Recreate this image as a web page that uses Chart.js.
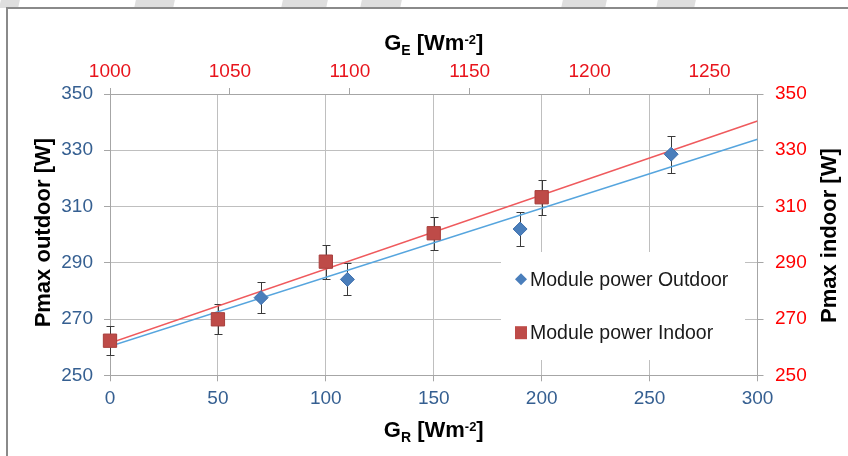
<!DOCTYPE html>
<html>
<head>
<meta charset="utf-8">
<script src="https://cdn.jsdelivr.net/npm/chart.js@4/dist/chart.umd.min.js"></script>
<style>
  html, body { margin:0; padding:0; width:848px; height:456px; overflow:hidden; background:#ffffff; }
  .wm { position:absolute; top:0; height:8px; background:#dedede; transform:skewX(-12deg); }
  #frame { position:absolute; left:6px; top:7px; width:900px; height:500px; background:#ffffff;
           border-top:2px solid #8a8a8a; border-left:2px solid #8a8a8a; box-sizing:border-box; }
  #c { position:absolute; left:0; top:0; }
</style>
</head>
<body>
<div class="wm" style="left:0px;width:19px"></div>
<div class="wm" style="left:135px;width:39px"></div>
<div class="wm" style="left:282px;width:45px"></div>
<div class="wm" style="left:361px;width:40px"></div>
<div class="wm" style="left:562px;width:44px"></div>
<div class="wm" style="left:657px;width:38px"></div>
<div id="frame"></div>
<canvas id="c" width="848" height="456"></canvas>
<script>
// ---- data ----
const outdoorX   = [70, 110, 190, 260];
const outdoorY   = [277.6, 284.1, 302.0, 328.6];
const outdoorErr = [5.4, 5.7, 6.0, 6.6];

const indoorX    = [0, 50, 100, 150, 200];
const indoorY    = [262.3, 269.9, 290.4, 300.5, 313.3];
const indoorErr  = [5.1, 5.3, 6.0, 5.8, 6.2];

const trendX        = [0, 300];
const trendOutdoorY = [260.3, 333.9];
const trendIndoorY  = [261.5, 340.4];

const bottomTicks = [0, 50, 100, 150, 200, 250, 300];
const topTicks    = [1000, 1050, 1100, 1150, 1200, 1250];
const yTicks      = [250, 270, 290, 310, 330, 350];

const seriesLabels = ['Module power Outdoor', 'Module power Indoor'];
const leftTitle  = 'Pmax outdoor [W]';
const rightTitle = 'Pmax indoor [W]';

// ---- styles ----
const FONT = "'Liberation Sans', Arial, sans-serif";
const BLUE_TXT = '#355f91';
const RED_TOP = '#e8141c';
const RED_R = '#ff0000';
const GRID = '#bfbfbf';
const AXIS = '#a6a6a6';
const BLUE_MK = '#4a7ebb';
const RED_MK = '#be4b48';

const pts = (xs, ys) => xs.map((x, i) => ({x: x, y: ys[i]}));
const plain = v => String(v);

const errorBars = {
  id: 'errorBars',
  beforeDatasetsDraw(chart) {
    const ctx = chart.ctx, xs = chart.scales.x;
    const ca = chart.chartArea;
    // legend box (white, covers gridlines)
    const lx = ca.right - 256.5, ly = ca.top + 158, lw = 244, lh = 108;
    ctx.save();
    ctx.fillStyle = '#ffffff';
    ctx.fillRect(lx, ly, lw, lh);
    ctx.font = '19.5px ' + FONT;
    ctx.textBaseline = 'middle';
    ctx.textAlign = 'left';
    const mx = lx + 20;
    const y1 = ly + 27.3, y2 = ly + 80.7;
    ctx.fillStyle = BLUE_MK;
    ctx.beginPath();
    ctx.moveTo(mx - 6, y1); ctx.lineTo(mx, y1 - 6); ctx.lineTo(mx + 6, y1); ctx.lineTo(mx, y1 + 6); ctx.closePath();
    ctx.fill();
    ctx.fillStyle = RED_MK;
    ctx.fillRect(mx - 6, y2 - 6.5, 12, 13);
    ctx.fillStyle = '#1a1a1a';
    ctx.fillText(seriesLabels[0], mx + 9, y1 + 1);
    ctx.fillText(seriesLabels[1], mx + 9, y2 + 1);
    // error bars
    ctx.strokeStyle = '#3a3a3a';
    ctx.lineWidth = 1;
    const draw = (xv, yv, ev, ys) => {
      xv.forEach((x, i) => {
        const px = Math.round(xs.getPixelForValue(x)) + 0.5;
        const t = Math.round(ys.getPixelForValue(yv[i] + ev[i])) + 0.5;
        const b = Math.round(ys.getPixelForValue(yv[i] - ev[i])) + 0.5;
        ctx.beginPath();
        ctx.moveTo(px, t); ctx.lineTo(px, b);
        ctx.moveTo(px - 4, t); ctx.lineTo(px + 4, t);
        ctx.moveTo(px - 4, b); ctx.lineTo(px + 4, b);
        ctx.stroke();
      });
    };
    draw(outdoorX, outdoorY, outdoorErr, chart.scales.y);
    draw(indoorX, indoorY, indoorErr, chart.scales.y2);
    ctx.restore();
  }
};

const titles = {
  id: 'titles',
  afterDraw(chart) {
    const ctx = chart.ctx;
    ctx.save();
    ctx.fillStyle = '#000000';
    ctx.textBaseline = 'alphabetic';
    const big = 'bold 22px ' + FONT, sub = 'bold 14px ' + FONT, sup = 'bold 13px ' + FONT;
    const drawRich = (parts, cx, base) => {
      let w = 0;
      parts.forEach(p => { ctx.font = p[1]; w += ctx.measureText(p[0]).width; });
      let x = cx - w / 2;
      ctx.textAlign = 'left';
      parts.forEach(p => { ctx.font = p[1]; ctx.fillText(p[0], x, base + p[2]); x += ctx.measureText(p[0]).width; });
    };
    const ca = chart.chartArea;
    const cx = (ca.left + ca.right) / 2;
    drawRich([['G', big, 0], ['E', sub, 5], [' [Wm', big, 0], ['-2', sup, -6], [']', big, 0]], cx, 50);
    drawRich([['G', big, 0], ['R', sub, 5], [' [Wm', big, 0], ['-2', sup, -6], [']', big, 0]], cx, 437);
    ctx.font = big;
    ctx.textAlign = 'center';
    const cy = (ca.top + ca.bottom) / 2;
    ctx.save(); ctx.translate(50, cy - 2); ctx.rotate(-Math.PI / 2); ctx.fillText(leftTitle, 0, 0); ctx.restore();
    ctx.save(); ctx.translate(835.5, cy + 1); ctx.rotate(-Math.PI / 2); ctx.fillText(rightTitle, 0, 0); ctx.restore();
    ctx.restore();
  }
};

const tickFont = {size: 19, family: FONT};

new Chart(document.getElementById('c'), {
  type: 'scatter',
  data: {
    datasets: [
      { label: seriesLabels[0], data: pts(outdoorX, outdoorY), xAxisID: 'x', yAxisID: 'y', clip: false,
        pointStyle: 'rectRot', pointRadius: 7, backgroundColor: BLUE_MK, borderColor: '#3f70ad', borderWidth: 1, order: 1 },
      { label: seriesLabels[1], data: pts(indoorX, indoorY), xAxisID: 'x', yAxisID: 'y2', clip: false,
        pointStyle: 'rect', pointRadius: 9.4, backgroundColor: RED_MK, borderColor: '#a83f3c', borderWidth: 1, order: 1 },
      { label: 'trend outdoor', data: pts(trendX, trendOutdoorY), xAxisID: 'x', yAxisID: 'y',
        showLine: true, pointRadius: 0, borderColor: '#56a5de', borderWidth: 1.5, order: 2 },
      { label: 'trend indoor', data: pts(trendX, trendIndoorY), xAxisID: 'x', yAxisID: 'y2',
        showLine: true, pointRadius: 0, borderColor: '#ef5a5d', borderWidth: 1.5, order: 2 }
    ]
  },
  options: {
    responsive: false,
    animation: false,
    devicePixelRatio: 1,
    layout: { padding: 0 },
    plugins: { legend: { display: false }, tooltip: { enabled: false } },
    scales: {
      x: {
        type: 'linear', position: 'bottom', min: bottomTicks[0], max: bottomTicks[bottomTicks.length - 1],
        afterBuildTicks: s => { s.ticks = bottomTicks.map(v => ({value: v})); },
        ticks: { color: BLUE_TXT, font: tickFont, padding: 6, maxRotation: 0, callback: plain },
        grid: { color: GRID, tickColor: AXIS, tickLength: 6 },
        border: { color: AXIS },
        afterFit: s => { s.height = 80.7; }
      },
      x2: {
        type: 'linear', position: 'top', min: 1000, max: 1270,
        afterBuildTicks: s => { s.ticks = topTicks.map(v => ({value: v})); },
        ticks: { color: RED_TOP, font: tickFont, padding: 5, maxRotation: 0, callback: plain },
        grid: { drawOnChartArea: false, color: AXIS, tickLength: 6 },
        border: { color: AXIS },
        afterFit: s => { s.height = 94; }
      },
      y: {
        type: 'linear', position: 'left', min: yTicks[0], max: yTicks[yTicks.length - 1],
        afterBuildTicks: s => { s.ticks = yTicks.map(v => ({value: v})); },
        ticks: { color: BLUE_TXT, font: tickFont, padding: 11, callback: plain },
        grid: { color: GRID, tickColor: AXIS, tickLength: 6 },
        border: { color: AXIS },
        afterFit: s => { s.width = 110; }
      },
      y2: {
        type: 'linear', position: 'right', min: yTicks[0], max: yTicks[yTicks.length - 1],
        afterBuildTicks: s => { s.ticks = yTicks.map(v => ({value: v})); },
        ticks: { color: RED_R, font: tickFont, padding: 11.5, callback: plain },
        grid: { drawOnChartArea: false, color: AXIS, tickLength: 6 },
        border: { color: AXIS },
        afterFit: s => { s.width = 90.5; }
      }
    }
  },
  plugins: [errorBars, titles]
});
</script>
</body>
</html>
